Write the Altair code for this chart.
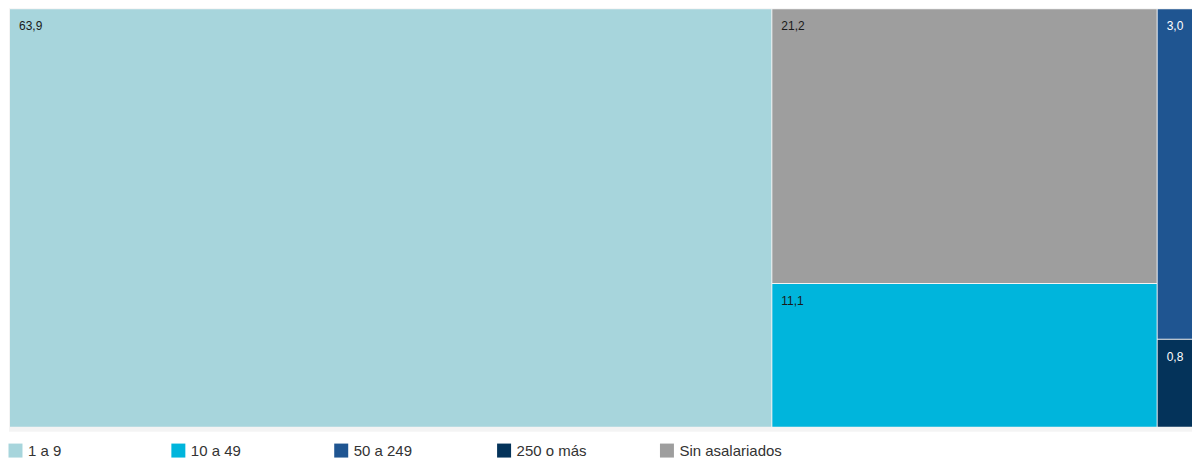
import altair as alt
import pandas as pd

categories = ["1 a 9", "10 a 49", "50 a 249", "250 o más", "Sin asalariados"]
values = [63.9, 11.1, 3.0, 0.8, 21.2]
colors = ["#a7d5dc", "#00b5dc", "#1f5591", "#04335a", "#9e9e9e"]
text_colors = ["#1a1a1a", "#1a1a1a", "#ffffff", "#ffffff", "#1a1a1a"]
# treemap columns, left to right; each lists its cells top to bottom
columns = [["1 a 9"], ["Sin asalariados", "10 a 49"], ["50 a 249", "250 o más"]]

val = dict(zip(categories, values))
tcol = dict(zip(categories, text_colors))
rows = []
x = 0.0
for col in columns:
    tot = sum(val[c] for c in col)
    y = 0.0
    for c in col:
        frac = val[c] / tot
        rows.append(dict(cat=c, value=val[c], x0=x, x1=x + tot, y0=y, y1=y + frac,
                         label=f"{val[c]:.1f}".replace(".", ","), tcol=tcol[c]))
        y += frac
    x += tot
df = pd.DataFrame(rows)

W, H = 1184, 424
PX = 11.94  # pixels per percentage point
xs = alt.Scale(domain=[-1 / PX, (W - 1) / PX], nice=False, zero=False)
ys = alt.Scale(domain=[-1 / 419, 1 + 4 / 419], nice=False, zero=False, reverse=True)

rect = alt.Chart(df).mark_rect(x2Offset=-1, y2Offset=-1, clip=True).encode(
    x=alt.X("x0:Q", scale=xs, axis=None),
    x2="x1:Q",
    y=alt.Y("y0:Q", scale=ys, axis=None),
    y2="y1:Q",
    color=alt.Color(
        "cat:N",
        scale=alt.Scale(domain=categories, range=colors),
        legend=alt.Legend(
            title=None, orient="none", legendX=-1, legendY=435, direction="horizontal",
            symbolType="square", symbolSize=196, symbolStrokeWidth=0, symbolOpacity=1,
            labelFontSize=15, labelFont="Liberation Sans", labelColor="#333333",
            labelOffset=5, gridAlign="all", columnPadding=40, padding=0,
        ),
    ),
)

text = alt.Chart(df).mark_text(
    align="left", baseline="middle", dx=9, dy=17, fontSize=12, font="Liberation Sans"
).encode(
    x=alt.X("x0:Q", scale=xs, axis=None),
    y=alt.Y("y0:Q", scale=ys, axis=None),
    text="label:N",
    color=alt.Color("tcol:N", scale=None, legend=None),
)

chart = (rect + text).properties(
    width=W, height=H, padding={"left": 0, "top": 0, "right": 0, "bottom": 0},
    background="white",
).configure_view(fill="#f4f4f4", stroke=None)

chart.save("out.html", embed_options={"renderer": "svg", "actions": False})
